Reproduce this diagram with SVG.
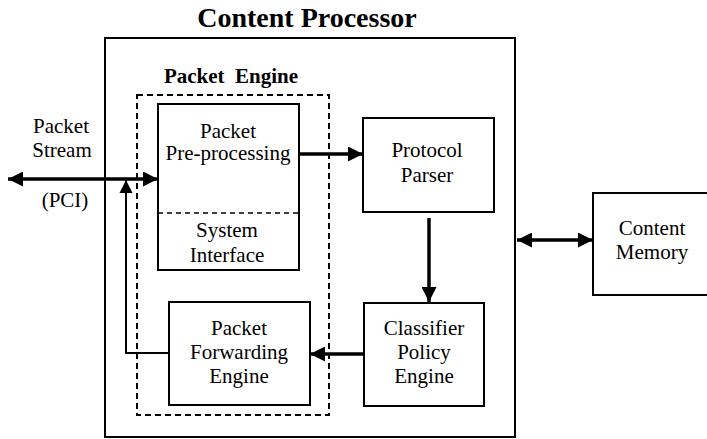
<svg xmlns="http://www.w3.org/2000/svg" width="707" height="439" viewBox="0 0 707 439">
<style>
.box{fill:#fff;stroke:#000;stroke-width:2}
.dash{fill:none;stroke:#000;stroke-width:2;stroke-dasharray:6,4}
text{font-family:'Liberation Serif','Times New Roman',serif;fill:#000;text-anchor:middle}
.t{font-size:21px}
.b{font-weight:bold}
.ln{stroke:#000;stroke-width:3.5;fill:none}
.thin{stroke:#000;stroke-width:2;fill:none}
</style>
<defs>
<marker id="ah" viewBox="0 0 10 10" refX="10" refY="5" markerWidth="17" markerHeight="15" markerUnits="userSpaceOnUse" orient="auto-start-reverse">
<path d="M0,0 L10,5 L0,10 Z" fill="#000"/>
</marker>
<marker id="ahs" viewBox="0 0 10 10" refX="10" refY="5" markerWidth="13" markerHeight="14" markerUnits="userSpaceOnUse" orient="auto">
<path d="M0,0 L10,5 L0,10 Z" fill="#000"/>
</marker>
</defs>
<text class="b" x="307" y="27" font-size="28">Content Processor</text>
<g id="content-processor"><rect class="box" x="105" y="38" width="410" height="399"/></g>
<g id="packet-engine">
<rect class="dash" x="137" y="95" width="192" height="320"/>
<text class="b" x="231" y="83" font-size="21" xml:space="preserve">Packet  Engine</text>
</g>
<g id="pre-processing">
<rect class="box" x="158" y="104" width="141" height="166"/>
<line x1="158" y1="213" x2="299" y2="213" stroke="#000" stroke-width="1.5" stroke-dasharray="5,4"/>
<text class="t" x="228" y="138">Packet</text>
<text class="t" x="228" y="160">Pre-processing</text>
<text class="t" x="227" y="237">System</text>
<text class="t" x="227" y="262">Interface</text>
</g>
<g id="protocol-parser">
<rect class="box" x="363" y="118" width="131" height="94"/>
<text class="t" x="427" y="157">Protocol</text>
<text class="t" x="427" y="182">Parser</text>
</g>
<g id="classifier">
<rect class="box" x="364" y="303" width="120" height="103"/>
<text class="t" x="424" y="335">Classifier</text>
<text class="t" x="424" y="359">Policy</text>
<text class="t" x="424" y="383">Engine</text>
</g>
<g id="forwarding">
<rect class="box" x="169" y="302" width="141" height="103"/>
<text class="t" x="239" y="335">Packet</text>
<text class="t" x="239" y="359">Forwarding</text>
<text class="t" x="239" y="383">Engine</text>
</g>
<g id="content-memory">
<rect class="box" x="593" y="193" width="120" height="102"/>
<text class="t" x="652" y="235">Content</text>
<text class="t" x="652" y="259">Memory</text>
</g>
<g id="labels">
<text class="t" x="61" y="133">Packet</text>
<text class="t" x="62" y="157">Stream</text>
<text class="t" x="65" y="207">(PCI)</text>
</g>
<g id="connectors">
<line class="ln" x1="8" y1="179" x2="158" y2="179" marker-start="url(#ah)" marker-end="url(#ah)"/>
<polyline class="thin" points="169,353 126,353 126,180" marker-end="url(#ahs)"/>
<line class="ln" x1="299" y1="154" x2="363" y2="154" marker-end="url(#ah)"/>
<line class="ln" x1="429" y1="218" x2="429" y2="302" marker-end="url(#ah)"/>
<line class="ln" x1="364" y1="354" x2="310" y2="354" marker-end="url(#ah)"/>
<line class="ln" x1="517" y1="240" x2="593" y2="240" marker-start="url(#ah)" marker-end="url(#ah)"/>
</g>
</svg>
